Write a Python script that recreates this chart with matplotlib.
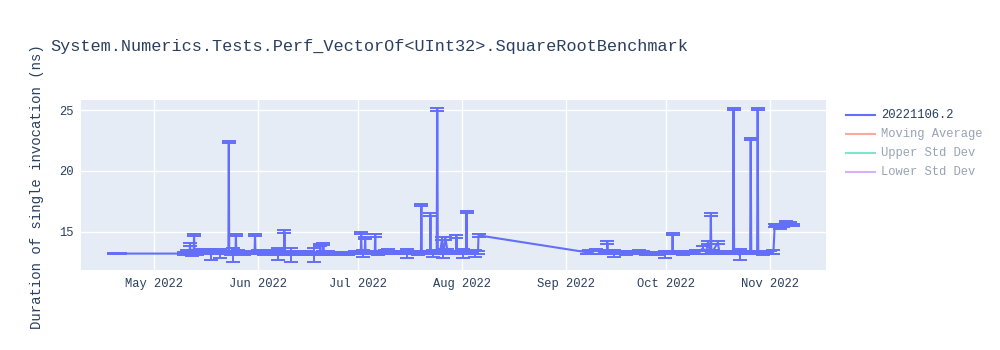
import matplotlib
matplotlib.use("Agg")
import matplotlib.pyplot as plt
import matplotlib.dates as mdates
from matplotlib.lines import Line2D
import pandas as pd

title = "System.Numerics.Tests.Perf_VectorOf<UInt32>.SquareRootBenchmark"
y_label = "Duration of single invocation (ns)"
legend_labels = ["20221106.2", "Moving Average", "Upper Std Dev", "Lower Std Dev"]

dates = [
    "2022-04-19", "2022-04-21",
    "2022-05-10", "2022-05-11", "2022-05-11 16:00", "2022-05-11 19:00", "2022-05-11 22:00",
    "2022-05-12 12:00", "2022-05-12 21:00", "2022-05-13 00:00", "2022-05-13 03:00",
    "2022-05-14", "2022-05-15", "2022-05-16", "2022-05-17", "2022-05-18", "2022-05-19",
    "2022-05-20", "2022-05-20 18:00", "2022-05-21 12:00", "2022-05-22",
    "2022-05-23 06:00", "2022-05-23 09:00", "2022-05-23 12:00", "2022-05-24 00:00",
    "2022-05-24 15:00", "2022-05-25 09:00", "2022-05-25 12:00", "2022-05-25 15:00",
    "2022-05-26", "2022-05-27", "2022-05-28", "2022-05-29", "2022-05-30",
    "2022-05-31 02:00", "2022-05-31 05:00", "2022-05-31 08:00",
    "2022-06-01", "2022-06-02", "2022-06-03", "2022-06-04", "2022-06-05", "2022-06-06",
    "2022-06-07 02:00", "2022-06-07 10:00", "2022-06-08 12:00", "2022-06-08 21:00",
    "2022-06-09 00:00", "2022-06-09 03:00", "2022-06-10", "2022-06-11", "2022-06-12",
    "2022-06-13", "2022-06-14", "2022-06-15", "2022-06-16", "2022-06-17",
    "2022-06-17 22:00", "2022-06-18 12:00", "2022-06-19 14:00", "2022-06-19 17:00",
    "2022-06-19 20:00", "2022-06-20 12:00", "2022-06-20 15:00", "2022-06-20 18:00",
    "2022-06-21", "2022-06-22", "2022-06-23", "2022-06-24", "2022-06-25", "2022-06-26",
    "2022-06-27", "2022-06-28", "2022-06-29", "2022-06-30", "2022-07-01",
    "2022-07-01 20:00", "2022-07-01 22:00", "2022-07-02 02:00", "2022-07-02 12:00",
    "2022-07-03 00:00", "2022-07-03 03:00", "2022-07-03 06:00", "2022-07-04", "2022-07-05",
    "2022-07-06 00:00", "2022-07-06 03:00", "2022-07-06 06:00", "2022-07-07", "2022-07-08",
    "2022-07-09", "2022-07-10", "2022-07-11", "2022-07-12", "2022-07-13", "2022-07-14",
    "2022-07-15 16:00", "2022-07-16", "2022-07-17", "2022-07-18", "2022-07-19",
    "2022-07-19 19:00", "2022-07-19 22:00", "2022-07-20 01:00", "2022-07-21", "2022-07-22",
    "2022-07-22 12:00", "2022-07-22 15:00", "2022-07-22 18:00", "2022-07-23 12:00",
    "2022-07-24 12:00", "2022-07-24 16:00", "2022-07-24 20:00", "2022-07-25 12:00",
    "2022-07-26 03:00", "2022-07-26 12:00", "2022-07-27 03:00", "2022-07-27 17:00",
    "2022-07-28", "2022-07-29", "2022-07-30 06:00", "2022-07-30 10:00", "2022-07-30 14:00",
    "2022-07-31", "2022-08-01 12:00", "2022-08-02 06:00", "2022-08-02 10:00",
    "2022-08-02 14:00", "2022-08-03", "2022-08-04", "2022-08-05", "2022-08-05 20:00",
    "2022-08-06 00:00",
    "2022-09-07 12:00", "2022-09-08", "2022-09-09", "2022-09-10", "2022-09-11", "2022-09-12",
    "2022-09-13 09:00", "2022-09-13 12:00", "2022-09-13 15:00", "2022-09-14",
    "2022-09-15 14:00", "2022-09-16", "2022-09-17", "2022-09-18", "2022-09-19", "2022-09-20",
    "2022-09-21", "2022-09-22", "2022-09-23", "2022-09-24", "2022-09-25", "2022-09-26",
    "2022-09-27", "2022-09-28", "2022-09-29", "2022-09-30 14:00", "2022-10-01", "2022-10-02",
    "2022-10-02 21:00", "2022-10-03 00:00", "2022-10-03 03:00", "2022-10-04", "2022-10-05",
    "2022-10-06", "2022-10-07", "2022-10-08", "2022-10-09", "2022-10-10", "2022-10-11",
    "2022-10-12", "2022-10-13", "2022-10-13 12:00", "2022-10-14 06:00", "2022-10-14 10:00",
    "2022-10-14 14:00", "2022-10-15", "2022-10-16 12:00", "2022-10-17", "2022-10-18",
    "2022-10-19", "2022-10-20", "2022-10-21 01:00", "2022-10-21 05:00", "2022-10-21 09:00",
    "2022-10-22", "2022-10-23", "2022-10-24", "2022-10-25", "2022-10-26 04:00",
    "2022-10-26 08:00", "2022-10-26 12:00", "2022-10-27", "2022-10-28 06:00",
    "2022-10-28 10:00", "2022-10-28 14:00", "2022-10-29", "2022-10-30", "2022-10-31",
    "2022-11-01", "2022-11-02 03:00", "2022-11-02 12:00", "2022-11-03", "2022-11-04",
    "2022-11-05", "2022-11-05 18:00", "2022-11-06", "2022-11-07", "2022-11-08",
]

durations = [
    13.2, 13.2,
    13.2, 13.35, 13.3, 13.95, 13.3,
    13.2, 13.3, 14.75, 13.35,
    13.25, 13.4, 13.3, 13.45, 13.1, 13.3,
    13.35, 13.2, 13.3, 13.25,
    13.3, 22.4, 13.3, 13.25,
    13.1, 13.3, 14.75, 13.3,
    13.35, 13.3, 13.25, 13.35, 13.3,
    13.3, 14.75, 13.35,
    13.35, 13.3, 13.25, 13.35, 13.3, 13.25,
    13.2, 13.45, 13.3, 13.3,
    15.0, 13.3, 13.25, 13.1, 13.2,
    13.25, 13.3, 13.2, 13.25, 13.2,
    13.1, 13.25, 13.2, 13.9,
    13.25, 13.3, 14.0, 13.3,
    13.25, 13.3, 13.2, 13.25, 13.15, 13.2,
    13.25, 13.2, 13.25, 13.3, 13.25,
    13.3, 14.9, 13.3, 13.2,
    13.3, 14.5, 13.3, 13.35, 13.3,
    13.3, 14.7, 13.3, 13.25, 13.3,
    13.35, 13.4, 13.3, 13.25, 13.3, 13.25,
    13.2, 13.3, 13.25, 13.3, 13.25,
    13.3, 17.2, 13.3, 13.3, 13.25,
    13.3, 16.4, 13.3, 13.2,
    13.3, 25.05, 13.3, 13.3,
    14.45, 13.2, 14.45, 13.45,
    13.3, 13.25, 13.3, 14.6, 13.3,
    13.25, 13.2, 13.3, 16.6,
    13.3, 13.25, 13.3, 13.2, 13.3,
    14.7,
    13.3, 13.35, 13.3, 13.5, 13.35, 13.3,
    13.3, 14.1, 13.3, 13.25,
    13.2, 13.3, 13.25, 13.3, 13.2, 13.35,
    13.3, 13.35, 13.4, 13.3, 13.2, 13.15,
    13.2, 13.25, 13.2, 13.1, 13.25, 13.3,
    13.3, 14.8, 13.3, 13.25, 13.3,
    13.2, 13.25, 13.3, 13.25, 13.35, 13.3,
    13.65, 13.3, 14.1, 13.3, 16.4,
    13.3, 13.4, 14.1, 13.3, 13.25,
    13.3, 13.3, 13.3, 25.1, 13.3,
    13.25, 13.1, 13.3, 13.35, 13.35,
    22.6, 13.35, 13.3, 13.3,
    25.1, 13.3, 13.25, 13.2, 13.25,
    13.3, 13.35, 15.5, 15.55, 15.3,
    15.45, 15.8, 15.6, 15.7, 15.55,
]

errors = [
    0.05, 0.05,
    0.15, 0.15, 0.1, 0.1, 0.15,
    0.2, 0.1, 0.1, 0.15,
    0.2, 0.15, 0.15, 0.1, 0.45, 0.15,
    0.1, 0.4, 0.15, 0.1,
    0.1, 0.08, 0.1, 0.15,
    0.6, 0.1, 0.1, 0.1,
    0.15, 0.1, 0.15, 0.1, 0.15,
    0.1, 0.1, 0.1,
    0.15, 0.15, 0.2, 0.15, 0.1, 0.15,
    0.5, 0.15, 0.1, 0.1,
    0.1, 0.1, 0.15, 0.6, 0.15,
    0.1, 0.15, 0.1, 0.15, 0.1,
    0.6, 0.1, 0.1, 0.1,
    0.1, 0.1, 0.1, 0.1,
    0.15, 0.1, 0.1, 0.1, 0.1, 0.1,
    0.1, 0.1, 0.1, 0.1, 0.1,
    0.1, 0.1, 0.1, 0.3,
    0.1, 0.1, 0.1, 0.1, 0.1,
    0.1, 0.1, 0.1, 0.15, 0.1,
    0.15, 0.15, 0.1, 0.1, 0.1, 0.1,
    0.4, 0.1, 0.1, 0.1, 0.15,
    0.1, 0.1, 0.1, 0.1, 0.1,
    0.1, 0.1, 0.1, 0.3,
    0.1, 0.1, 0.1, 0.15,
    0.1, 0.4, 0.1, 0.15,
    0.1, 0.1, 0.1, 0.1, 0.1,
    0.1, 0.4, 0.1, 0.1,
    0.1, 0.1, 0.1, 0.3, 0.1,
    0.1,
    0.1, 0.15, 0.1, 0.1, 0.15, 0.1,
    0.1, 0.1, 0.1, 0.1,
    0.3, 0.1, 0.1, 0.1, 0.1, 0.1,
    0.15, 0.1, 0.1, 0.1, 0.15, 0.1,
    0.1, 0.1, 0.1, 0.3, 0.1, 0.1,
    0.1, 0.1, 0.1, 0.1, 0.1,
    0.1, 0.1, 0.1, 0.1, 0.15, 0.15,
    0.15, 0.15, 0.1, 0.1, 0.1,
    0.1, 0.1, 0.1, 0.1, 0.1,
    0.1, 0.1, 0.1, 0.08, 0.1,
    0.1, 0.45, 0.1, 0.1, 0.1,
    0.08, 0.1, 0.1, 0.1,
    0.08, 0.1, 0.1, 0.1, 0.1,
    0.1, 0.15, 0.1, 0.1, 0.1,
    0.1, 0.1, 0.15, 0.1, 0.1,
]

month_ticks = ["2022-05-01", "2022-06-01", "2022-07-01", "2022-08-01",
               "2022-09-01", "2022-10-01", "2022-11-01"]

FONT = "Liberation Mono"
TXT = "#2a3f5f"
BLUE = "#636EFA"

plt.rcParams["font.family"] = [FONT, "DejaVu Sans"]

fig = plt.figure(figsize=(10, 3.5), dpi=100)
ax = fig.add_axes([0.081, 1 - 270 / 350, 0.745, 170 / 350])
ax.set_facecolor("#E5ECF6")
for s in ax.spines.values():
    s.set_visible(False)

x = pd.to_datetime(dates, format="mixed")
n = min(len(x), len(durations), len(errors))
print(len(x), len(durations), len(errors))
ax.errorbar(x[:n], durations[:n], yerr=errors[:n], color=BLUE, lw=1.5, elinewidth=1.4,
            capsize=5, capthick=1.4, zorder=3)

ax.set_xlim(pd.Timestamp("2022-04-09 05:00"), pd.Timestamp("2022-11-17 20:00"))
ax.set_ylim(11.85, 25.83)
ax.set_yticks([15, 20, 25])
ax.set_xticks(pd.to_datetime(month_ticks))
ax.xaxis.set_major_formatter(mdates.DateFormatter("%b %Y"))
ax.grid(True, color="white", lw=1)
ax.set_axisbelow(True)
ax.tick_params(length=0, labelsize=8.7, labelcolor=TXT)
ax.tick_params(axis="x", pad=6)
ax.tick_params(axis="y", pad=5)

fig.text(0.05, 1 - 46 / 350, title, fontsize=12.2, color=TXT, va="center", ha="left")
fig.text(0.037, 1 - 187 / 350, y_label, fontsize=10.1, color=TXT, rotation=90,
         va="center", ha="center")

legend_colors = [BLUE, "#F7AA9D", "#7FE5CA", "#D5B1FC"]
text_colors = [TXT, "#98a3b5", "#98a3b5", "#98a3b5"]
for i, (lab, lc, tc) in enumerate(zip(legend_labels, legend_colors, text_colors)):
    yy = 1 - (115 + 19 * i) / 350
    fig.add_artist(Line2D([0.846, 0.875], [yy, yy], color=lc, lw=1.5,
                          transform=fig.transFigure))
    fig.text(0.881, yy, lab, fontsize=8.7, color=tc, va="center", ha="left")

fig.savefig("out.png", dpi=100)
